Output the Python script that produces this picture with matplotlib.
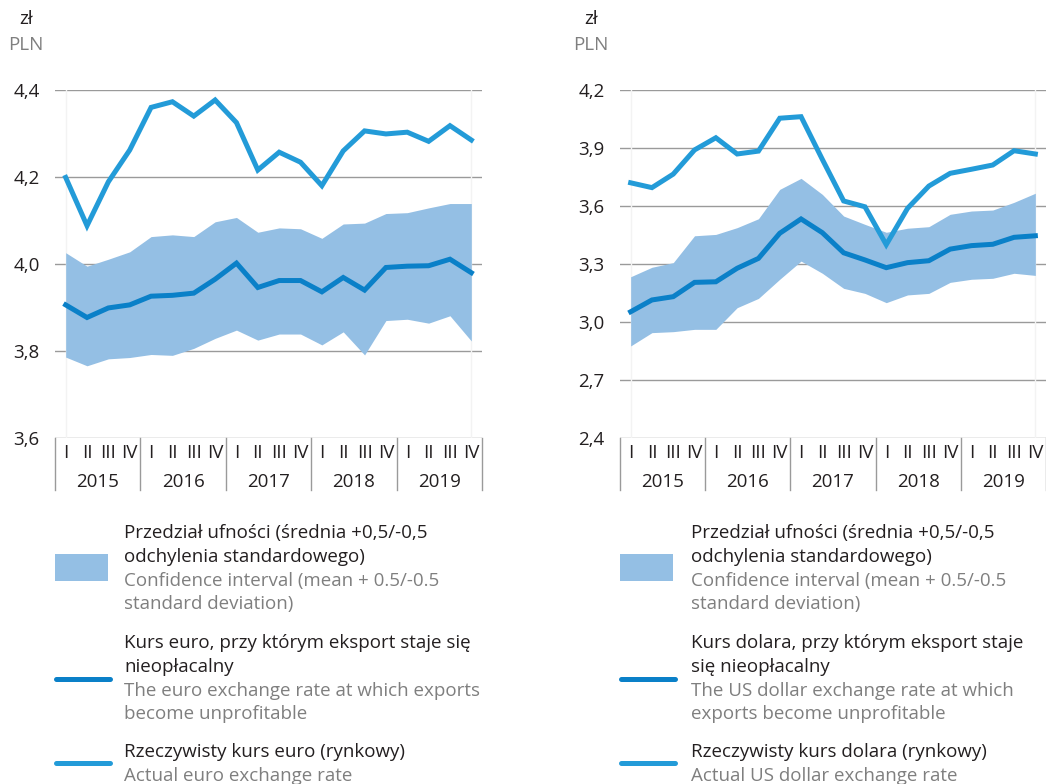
import matplotlib.pyplot as plt
from matplotlib.patches import Rectangle
from matplotlib.lines import Line2D
import matplotlib.transforms as mtransforms

plt.rcParams['font.family'] = ['Open Sans', 'DejaVu Sans']

years = ['2015', '2016', '2017', '2018', '2019']
quarters = ['I', 'II', 'III', 'IV']

# EUR/PLN
eur_actual = [4.199, 4.088, 4.189, 4.262, 4.360, 4.373, 4.340, 4.377, 4.325, 4.216,
              4.257, 4.234, 4.180, 4.260, 4.306, 4.299, 4.303, 4.282, 4.318, 4.285]
eur_mean = [3.906, 3.877, 3.899, 3.906, 3.926, 3.928, 3.933, 3.965, 4.002, 3.946,
            3.962, 3.962, 3.936, 3.969, 3.940, 3.992, 3.995, 3.996, 4.011, 3.980]
eur_upper = [4.026, 3.995, 4.011, 4.028, 4.063, 4.067, 4.063, 4.097, 4.107, 4.073,
             4.083, 4.081, 4.059, 4.092, 4.094, 4.116, 4.118, 4.129, 4.139, 4.139]
eur_lower = [3.786, 3.766, 3.782, 3.785, 3.792, 3.790, 3.806, 3.829, 3.848, 3.825,
             3.839, 3.839, 3.814, 3.844, 3.791, 3.870, 3.873, 3.864, 3.881, 3.823]

# USD/PLN
usd_actual = [3.720, 3.695, 3.765, 3.890, 3.953, 3.869, 3.884, 4.054, 4.062, 3.841,
              3.626, 3.596, 3.400, 3.588, 3.703, 3.769, 3.790, 3.812, 3.886, 3.869]
usd_mean = [3.053, 3.114, 3.131, 3.205, 3.208, 3.278, 3.329, 3.459, 3.533, 3.462,
            3.358, 3.321, 3.281, 3.307, 3.317, 3.377, 3.395, 3.402, 3.438, 3.446]
usd_upper = [3.234, 3.283, 3.307, 3.446, 3.453, 3.488, 3.534, 3.686, 3.743, 3.660,
             3.548, 3.505, 3.464, 3.485, 3.493, 3.557, 3.574, 3.579, 3.619, 3.666]
usd_lower = [2.876, 2.945, 2.950, 2.962, 2.962, 3.074, 3.122, 3.221, 3.315, 3.252,
             3.174, 3.148, 3.100, 3.140, 3.148, 3.205, 3.221, 3.226, 3.252, 3.241]

eur_ticks = [3.6, 3.8, 4.0, 4.2, 4.4]
usd_ticks = [2.4, 2.7, 3.0, 3.3, 3.6, 3.9, 4.2]

legend_eur = [
    (['Przedział ufności (średnia +0,5/-0,5', 'odchylenia standardowego)'],
     ['Confidence interval (mean + 0.5/-0.5', 'standard deviation)']),
    (['Kurs euro, przy którym eksport staje się', 'nieopłacalny'],
     ['The euro exchange rate at which exports', 'become unprofitable']),
    (['Rzeczywisty kurs euro (rynkowy)'], ['Actual euro exchange rate']),
]
legend_usd = [
    (['Przedział ufności (średnia +0,5/-0,5', 'odchylenia standardowego)'],
     ['Confidence interval (mean + 0.5/-0.5', 'standard deviation)']),
    (['Kurs dolara, przy którym eksport staje', 'się nieopłacalny'],
     ['The US dollar exchange rate at which', 'exports become unprofitable']),
    (['Rzeczywisty kurs dolara (rynkowy)'], ['Actual US dollar exchange rate']),
]

BAND = '#94bfe4'
MEAN = '#0a80c8'
ACTUAL = '#239bd8'
GRID = '#9a9a9a'
DARK = '#231f20'
GREY = '#7f7f7f'
FS = 13.5

W, H = 1046, 784
fig = plt.figure(figsize=(W / 100, H / 100), dpi=100)


def px(x0, y0, x1, y1):
    return [x0 / W, 1 - y1 / H, (x1 - x0) / W, (y1 - y0) / H]


def panel(rect, actual, mean, upper, lower, ticks, unit_x):
    ax = fig.add_axes(rect)
    x = [i + 0.5 for i in range(len(actual))]
    ax.fill_between(x, lower, upper, color=BAND, lw=0, zorder=1)
    ax.plot(x, mean, color=MEAN, lw=3.6, solid_joinstyle='miter', zorder=3)
    ax.plot(x, actual, color=ACTUAL, lw=3.6, solid_joinstyle='miter', zorder=3)
    ax.set_xlim(0, len(actual))
    ax.set_ylim(ticks[0], ticks[-1])
    ax.set_yticks(ticks)
    ax.set_yticklabels([f'{t:.1f}'.replace('.', ',') for t in ticks],
                       fontsize=FS, color=DARK)
    ax.tick_params(axis='y', length=0, pad=11)
    ax.set_xticks([])
    for s in ax.spines.values():
        s.set_visible(False)
    for t in ticks:
        ax.axhline(t, color=GRID, lw=1, zorder=0)

    # faint vertical guides at first and last point
    for xi in (x[0], x[-1]):
        ax.axvline(xi, color='#f3f3f3', lw=1, zorder=0)

    # quarter/year box under the plot
    tr = mtransforms.blended_transform_factory(ax.transData, ax.transAxes)
    hpx = rect[3] * H
    for k in range(len(years) + 1):
        ax.add_line(Line2D([4 * k, 4 * k], [0, -52 / hpx], transform=tr,
                           color=GRID, lw=1, clip_on=False))
    for k, yr in enumerate(years):
        for q, ql in enumerate(quarters):
            ax.text(4 * k + q + 0.5, -20 / hpx, ql, transform=tr,
                    ha='center', va='baseline', fontsize=FS, color=DARK)
        ax.text(4 * k + 2, -49 / hpx, yr, transform=tr,
                ha='center', va='baseline', fontsize=FS, color=DARK)

    fig.text(unit_x / W, 1 - 24 / H, 'zł', ha='center', va='baseline',
             fontsize=FS, color=DARK)
    fig.text(unit_x / W, 1 - 50 / H, 'PLN', ha='center', va='baseline',
             fontsize=FS, color=GREY)
    return ax


def legend(x_patch, x_text, entries):
    # filled patch for the interval
    fig.patches.append(Rectangle((x_patch / W, 1 - 581 / H), 53 / W, 27 / H,
                                 transform=fig.transFigure, color=BAND, lw=0))
    for yl, col in ((679, MEAN), (763, ACTUAL)):
        fig.lines.append(Line2D([(x_patch + 1) / W, (x_patch + 55) / W],
                                [1 - yl / H, 1 - yl / H], transform=fig.transFigure,
                                color=col, lw=3.6, solid_capstyle='round'))
    first_baselines = [538, 648, 757]
    for base, (pl, en) in zip(first_baselines, entries):
        y = base
        for line in pl:
            fig.text(x_text / W, 1 - y / H, line, ha='left', va='baseline',
                     fontsize=FS, color=DARK)
            y += 23.8
        for line in en:
            fig.text(x_text / W, 1 - y / H, line, ha='left', va='baseline',
                     fontsize=FS, color=GREY)
            y += 23.8


panel(px(55, 90, 482, 438), eur_actual, eur_mean, eur_upper, eur_lower,
      eur_ticks, 26)
panel(px(620, 90, 1046, 438), usd_actual, usd_mean, usd_upper, usd_lower,
      usd_ticks, 591)
legend(55, 124, legend_eur)
legend(620, 691, legend_usd)

fig.savefig('out.png', dpi=100)
